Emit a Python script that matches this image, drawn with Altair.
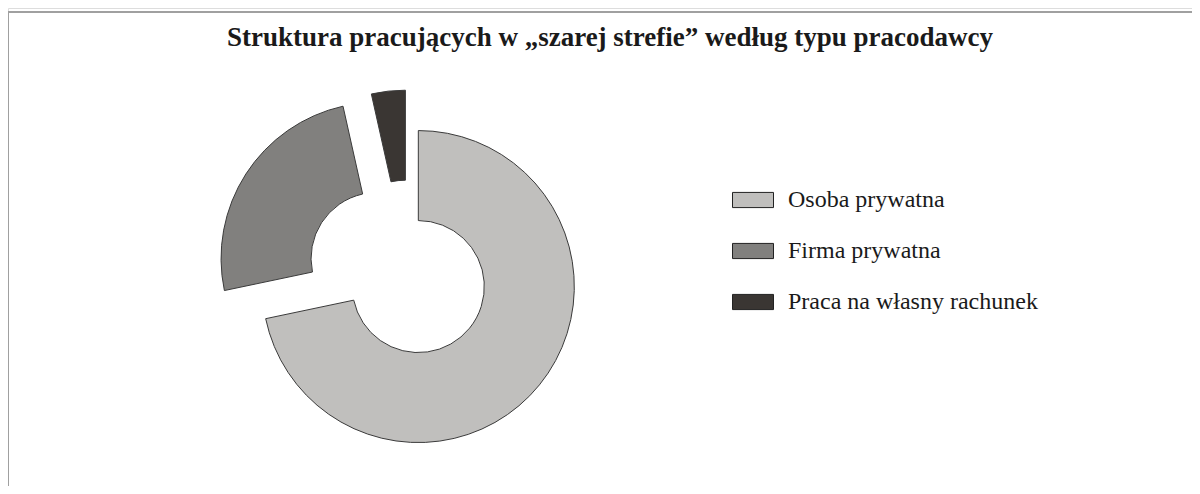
import altair as alt
import pandas as pd

# ---- data ----
categories = ["Osoba prywatna", "Firma prywatna", "Praca na własny rachunek"]
shares = [71.7, 24.8, 3.5]
title_text = "Struktura pracujących w „szarej strefie” według typu pracodawcy"

# ---- style ----
COLORS = ["#c0bfbd", "#81807e", "#3a3633"]
EXPLODE = [12, 38, 33]          # px offset of each slice along its bisector
W, H = 1184, 478                # whole drawing area
CX, CY = 401, 271               # pie centre inside the drawing area
R_OUT, R_IN = 156, 66
SERIF = "Liberation Serif"

df = pd.DataFrame({
    "cat": categories,
    "share": shares,
    "explode": EXPLODE,
    "order": list(range(len(categories))),
})

total = sum(shares)

pie = (
    alt.Chart(df)
    .transform_window(cum="sum(share)", sort=[alt.SortField("order")], frame=[None, 0])
    .transform_calculate(start="datum.cum - datum.share")
    .transform_calculate(mid=f"(datum.cum - datum.share / 2) / {total} * 2 * PI")
    .transform_calculate(dx="datum.explode * sin(datum.mid)")
    .transform_calculate(dy="-datum.explode * cos(datum.mid)")
    .mark_arc(radius=R_OUT, radius2=R_IN, stroke="#3a3a3a", strokeWidth=1)
    .encode(
        theta=alt.Theta("start:Q", stack=None,
                        scale=alt.Scale(domain=[0, total], range=[0, 6.283185307179586])),
        theta2="cum:Q",
        x=alt.X("dx:Q", axis=None,
                scale=alt.Scale(domain=[-CX, W - CX], range=[0, W], nice=False, zero=False)),
        y=alt.Y("dy:Q", axis=None,
                scale=alt.Scale(domain=[-CY, H - CY], range=[0, H], nice=False, zero=False)),
        color=alt.Color(
            "cat:N",
            sort=categories,
            scale=alt.Scale(domain=categories, range=COLORS),
            legend=alt.Legend(
                title=None,
                orient="none",
                legendX=724,
                legendY=171,
                symbolType="M-1,-0.37H1V0.37H-1Z",
                symbolSize=1681,
                symbolStrokeColor="#222222",
                symbolStrokeWidth=1,
                symbolOpacity=1,
                labelFont=SERIF,
                labelFontSize=24,
                labelColor="#1a1a1a",
                labelOffset=14,
                labelLimit=500,
                rowPadding=18,
                padding=0,
            ),
        ),
    )
)

frame_top = alt.Chart(alt.Data(values=[{}])).mark_rule(color="#a0a0a0", strokeWidth=2).encode(
    x=alt.value(0), x2=alt.value(W), y=alt.value(4)
)
frame_left = alt.Chart(alt.Data(values=[{}])).mark_rule(color="#a0a0a0", strokeWidth=2).encode(
    x=alt.value(0), y=alt.value(4), y2=alt.value(H)
)

chart = (
    alt.layer(frame_top, frame_left, pie)
    .properties(
        width=W,
        height=H,
        autosize=alt.AutoSizeParams(type="none"),
        padding=0,
        title=alt.TitleParams(
            title_text,
            font=SERIF,
            fontSize=27,
            fontWeight="bold",
            color="#1a1a1a",
            anchor="middle",
            offset=-44,
            dx=10,
        ),
    )
    .configure_view(stroke=None)
    .configure(background="white")
)

chart.save("out.html", embed_options={"renderer": "svg", "actions": False})
